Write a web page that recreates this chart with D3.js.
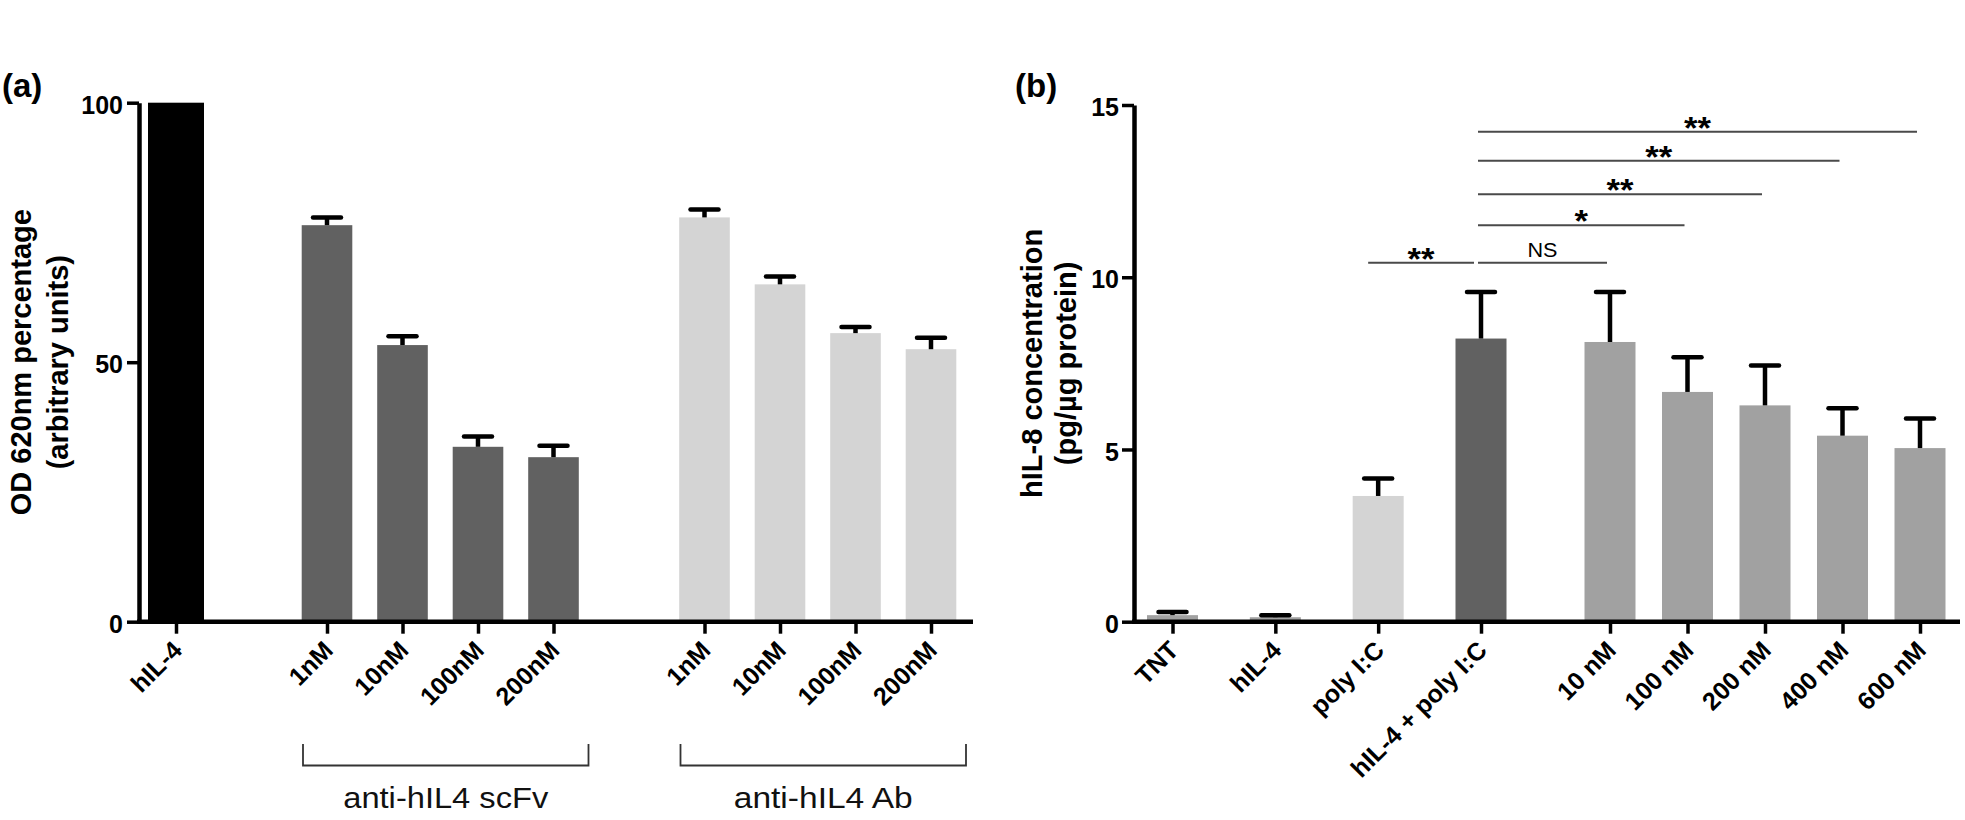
<!DOCTYPE html>
<html><head><meta charset="utf-8">
<script src="https://cdn.jsdelivr.net/npm/d3@7"></script>
<style>
html,body{margin:0;padding:0;background:#fff;}
svg{display:block;background:#fff;}
</style></head><body>
<svg id="chart" width="1965" height="820"></svg>
<script>
// ---------------- DATA ----------------
// Panel (a)
const aCategories = ["hIL-4", "1nM", "10nM", "100nM", "200nM", "1nM", "10nM", "100nM", "200nM"];
const aGroupOf    = [0, 1, 1, 1, 1, 2, 2, 2, 2];
const aGroupNames = ["", "anti-hIL4 scFv", "anti-hIL4 Ab"];
const aValues     = [100, 76.4, 53.3, 33.7, 31.7, 77.9, 65.0, 55.6, 52.5];
const aErrors     = [0, 1.5, 1.7, 2.0, 2.2, 1.5, 1.5, 1.2, 2.2];
const aYTicks     = [0, 50, 100];
const aYTitle     = ["OD 620nm percentage", "(arbitrary units)"];

// Panel (b)
const bCategories = ["TNT", "hIL-4", "poly I:C", "hIL-4 + poly I:C", "10 nM", "100 nM", "200 nM", "400 nM", "600 nM"];
const bGroupOf    = [0, 0, 0, 0, 1, 1, 1, 1, 1];
const bValues     = [0.19, 0.13, 3.65, 8.22, 8.12, 6.67, 6.28, 5.40, 5.04];
const bErrors     = [0.09, 0.06, 0.51, 1.35, 1.45, 1.01, 1.16, 0.80, 0.86];
const bYTicks     = [0, 5, 10, 15];
const bYTitle     = ["hIL-8 concentration", "(pg/\u00b5g protein)"];

// Significance comparisons (panel b)
const sigFrom  = [2, 3, 3, 3, 3, 3];
const sigTo    = [3, 4, 5, 6, 7, 8];
const sigLevel = [10.42, 10.42, 11.51, 12.41, 13.38, 14.22];
const sigLabel = ["**", "NS", "*", "**", "**", "**"];

// ---------------- STYLE ----------------
const FONT = '"Liberation Sans", Arial, Helvetica, sans-serif';
const aColors = ["#000000", "#616161", "#d4d4d4"];
const bColors = ["#a1a1a1", "#a1a1a1", "#d4d4d4", "#616161", "#a1a1a1", "#a1a1a1", "#a1a1a1", "#a1a1a1", "#a1a1a1"];
const AXW = 4.5, TICKW = 3.5, ERRW = 4.5, CAP = 14;

const svg = d3.select("#chart");

function styleYAxis(g) {
  g.select(".domain").attr("stroke", "#000").attr("stroke-width", AXW);
  g.selectAll(".tick line").attr("stroke", "#000").attr("stroke-width", TICKW);
  g.selectAll(".tick text").attr("fill", "#000").attr("font-family", FONT)
    .attr("font-size", 25).attr("font-weight", "bold").attr("dy", "0.43em");
}
function styleXAxis(g, labels) {
  g.select(".domain").remove();
  g.selectAll(".tick line").attr("stroke", "#000").attr("stroke-width", TICKW);
  g.selectAll(".tick text").attr("fill", "#000").attr("font-family", FONT)
    .attr("font-size", 25).attr("font-weight", "bold")
    .attr("x", 0).attr("y", 0).attr("dy", 0)
    .attr("text-anchor", "end")
    .attr("transform", "translate(7,30) rotate(-45)");
}
function errorBars(g, xs, ys, vals, errs) {
  vals.forEach((v, i) => {
    if (!(errs[i] > 0)) return;
    const x = xs[i], y0 = ys(v), y1 = ys(v + errs[i]);
    g.append("line").attr("x1", x).attr("x2", x).attr("y1", y0).attr("y2", y1)
      .attr("stroke", "#000").attr("stroke-width", ERRW);
    g.append("line").attr("x1", x - CAP).attr("x2", x + CAP).attr("y1", y1).attr("y2", y1)
      .attr("stroke", "#000").attr("stroke-width", ERRW).attr("stroke-linecap", "round");
  });
}
function yTitle(lines, xs, cy) {
  lines.forEach((t, i) => {
    svg.append("text").attr("transform", `translate(${xs[i]},${cy}) rotate(-90)`)
      .attr("text-anchor", "middle").attr("font-family", FONT).attr("font-weight", "bold")
      .attr("font-size", 29).attr("fill", "#000").text(t);
  });
}

// ================= PANEL (a) =================
const aY = d3.scaleLinear().domain([0, 100]).range([621.7, 102.7]);
const aSlot = d3.scaleLinear().domain([0, 10]).range([176, 931]);
const aPos = aCategories.map((c, i) => aSlot(i + aGroupOf[i]));
const aAxisX = 139, aXEnd = 973;

const gA = svg.append("g");
gA.selectAll("rect.bar").data(aValues).join("rect")
  .attr("class", "bar")
  .attr("x", (d, i) => aPos[i] - (aGroupOf[i] === 0 ? 28 : 25.3))
  .attr("width", (d, i) => aGroupOf[i] === 0 ? 56 : 50.6)
  .attr("y", d => aY(d)).attr("height", d => aY(0) - aY(d))
  .attr("fill", (d, i) => aColors[aGroupOf[i]]);
errorBars(gA, aPos, aY, aValues, aErrors);

gA.append("g").attr("transform", `translate(${aAxisX},0)`)
  .call(d3.axisLeft(aY).tickValues(aYTicks).tickSizeInner(12).tickSizeOuter(0).tickPadding(4))
  .call(styleYAxis);
gA.append("line").attr("x1", aAxisX - 2).attr("x2", aXEnd).attr("y1", aY(0)).attr("y2", aY(0))
  .attr("stroke", "#000").attr("stroke-width", AXW);
const aXOrd = d3.scaleOrdinal().domain(aCategories.map((c, i) => String(i))).range(aPos);
gA.append("g").attr("transform", `translate(0,${aY(0)})`)
  .call(d3.axisBottom(aXOrd).tickSizeInner(12).tickSizeOuter(0).tickFormat(i => aCategories[+i]))
  .call(styleXAxis);

// group brackets
[1, 2].forEach(gi => {
  const idx = aCategories.map((c, i) => i).filter(i => aGroupOf[i] === gi);
  const x1 = aPos[idx[0]] - 24, x2 = aPos[idx[idx.length - 1]] + 35;
  gA.append("path").attr("d", `M${x1},744V765.5H${x2}V744`)
    .attr("fill", "none").attr("stroke", "#333").attr("stroke-width", 1.8);
  gA.append("text").attr("x", (x1 + x2) / 2).attr("y", 808)
    .attr("text-anchor", "middle").attr("font-family", FONT).attr("font-size", 29)
    .attr("textLength", gi === 1 ? 205 : 179).attr("lengthAdjust", "spacingAndGlyphs")
    .attr("fill", "#111").text(aGroupNames[gi]);
});
svg.append("text").attr("x", 2).attr("y", 97).attr("font-family", FONT).attr("font-weight", "bold")
  .attr("font-size", 33).attr("fill", "#000").text("(a)");
yTitle(aYTitle, [31, 67.5], 362.2);

// ================= PANEL (b) =================
const bY = d3.scaleLinear().domain([0, 15]).range([621.7, 105]);
const bG0 = d3.scalePoint().domain(bCategories.filter((c, i) => bGroupOf[i] === 0)).range([1172.5, 1481]);
const bG1 = d3.scalePoint().domain(bCategories.filter((c, i) => bGroupOf[i] === 1)).range([1610, 1920]);
const bPos = bCategories.map((c, i) => (bGroupOf[i] === 0 ? bG0 : bG1)(c));
const bAxisX = 1134, bXEnd = 1960;

const gB = svg.append("g");
gB.selectAll("rect.bar").data(bValues).join("rect")
  .attr("class", "bar")
  .attr("x", (d, i) => bPos[i] - 25.5).attr("width", 51)
  .attr("y", d => bY(d)).attr("height", d => bY(0) - bY(d))
  .attr("fill", (d, i) => bColors[i]);
errorBars(gB, bPos, bY, bValues, bErrors);

gB.append("g").attr("transform", `translate(${bAxisX},0)`)
  .call(d3.axisLeft(bY).tickValues(bYTicks).tickSizeInner(12).tickSizeOuter(0).tickPadding(3))
  .call(styleYAxis);
gB.append("line").attr("x1", bAxisX - 2).attr("x2", bXEnd).attr("y1", bY(0)).attr("y2", bY(0))
  .attr("stroke", "#000").attr("stroke-width", AXW);
const bXOrd = d3.scaleOrdinal().domain(bCategories.map((c, i) => String(i))).range(bPos);
gB.append("g").attr("transform", `translate(0,${bY(0)})`)
  .call(d3.axisBottom(bXOrd).tickSizeInner(12).tickSizeOuter(0).tickFormat(i => bCategories[+i]))
  .call(styleXAxis);

// significance lines
sigLabel.forEach((lab, k) => {
  let x1 = bPos[sigFrom[k]] - 3, x2 = bPos[sigTo[k]] - 3;
  if (sigFrom[k] === 2) { x1 = bPos[sigFrom[k]] - 10; x2 = bPos[sigTo[k]] - 7; }
  const y = bY(sigLevel[k]);
  gB.append("line").attr("x1", x1).attr("x2", x2).attr("y1", y).attr("y2", y)
    .attr("stroke", "#4a4a4a").attr("stroke-width", 2);
  const t = gB.append("text").attr("x", (x1 + x2) / 2).attr("text-anchor", "middle")
    .attr("font-family", FONT).attr("fill", "#000");
  if (lab === "NS") {
    t.attr("y", y - 6).attr("font-size", 20).attr("textLength", 30)
      .attr("lengthAdjust", "spacingAndGlyphs").text(lab);
  } else {
    t.attr("y", y + 7).attr("font-size", 32).attr("font-weight", "bold")
      .attr("textLength", lab.length * 13.5).attr("lengthAdjust", "spacingAndGlyphs").text(lab);
  }
});

svg.append("text").attr("x", 1015).attr("y", 97).attr("font-family", FONT).attr("font-weight", "bold")
  .attr("font-size", 33).attr("fill", "#000").text("(b)");
yTitle(bYTitle, [1041.5, 1075.5], 363.4);
</script>
</body></html>
